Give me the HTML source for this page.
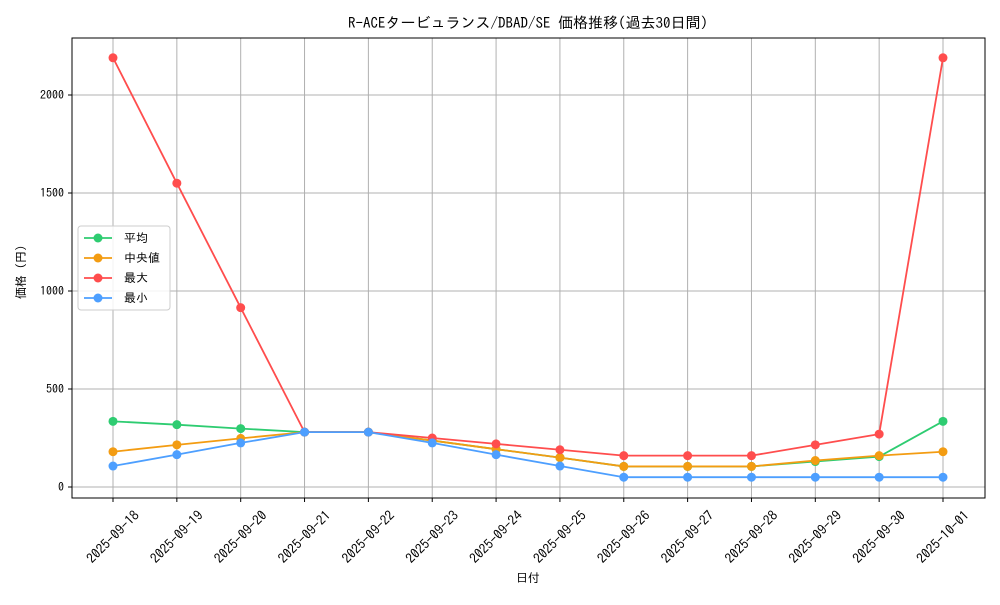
<!DOCTYPE html>
<html><head><meta charset="utf-8"><style>
body{margin:0;background:#fff;}
svg text{font-family:"IPAGothic","Liberation Sans","Noto Sans CJK JP",sans-serif;}
</style></head><body>
<svg id="chart" width="1000" height="600" xmlns="http://www.w3.org/2000/svg">
<rect width="1000" height="600" fill="#fff"/>
<text x="528" y="28" font-size="15" text-anchor="middle">R-ACEタービュランス/DBAD/SE 価格推移(過去30日間)</text>
<g id="grid"></g>
<rect x="72" y="38" width="913" height="460" fill="none" stroke="#000" stroke-width="1"/>
<g id="axes"></g>
<g id="series"></g>
<text x="528" y="582" font-size="12" text-anchor="middle">日付</text>
<text transform="translate(25,272) rotate(-90)" font-size="12" text-anchor="middle">価格 (円)</text>
<g id="legend"></g>
</svg>
<script>
const categories=["2025-09-18","2025-09-19","2025-09-20","2025-09-21","2025-09-22","2025-09-23","2025-09-24","2025-09-25","2025-09-26","2025-09-27","2025-09-28","2025-09-29","2025-09-30","2025-10-01"];
const avgValues=[335,318,298,280,280,237,193,150,105,105,105,130,155,335];
const medianValues=[180,215,248,280,280,237,193,150,105,105,105,135,160,180];
const maxValues=[2190,1550,915,280,280,250,220,190,160,160,160,215,270,2190];
const minValues=[107,165,225,280,280,225,165,107,50,50,50,50,50,50];
const yTicks=[0,500,1000,1500,2000];
const seriesNames=["平均","中央値","最大","最小"];
const seriesColors=["#2ecc71","#f39c12","#ff4d4d","#4d9fff"];
const seriesData=[avgValues,medianValues,maxValues,minValues];
const NS="http://www.w3.org/2000/svg";
const x=i=>113+i*(943-113)/(categories.length-1);
const y=v=>487-v*0.196;
function mk(t,a,p){const e=document.createElementNS(NS,t);for(const k in a)e.setAttribute(k,a[k]);p.appendChild(e);return e;}
const grid=document.getElementById('grid'),axes=document.getElementById('axes'),ser=document.getElementById('series'),leg=document.getElementById('legend');
yTicks.forEach(v=>{
 const l=mk('line',{x1:72,x2:985,y1:y(v),y2:y(v),stroke:'#b0b0b0','stroke-width':1},grid);
 
 
 mk('line',{x1:68,x2:72,y1:y(v),y2:y(v),stroke:'#000'},axes);
 const t=mk('text',{x:64,y:y(v)+4,'font-size':12,'text-anchor':'end'},axes);t.textContent=v;
 
 
});
categories.forEach((c,i)=>{
 const l=mk('line',{x1:x(i),x2:x(i),y1:38,y2:498,stroke:'#b0b0b0','stroke-width':1},grid);
 
 
 mk('line',{x1:x(i),x2:x(i),y1:498,y2:502,stroke:'#000'},axes);
 const cx=x(i),cy=537;
 const t=mk('text',{x:cx,y:cy+4.5,'font-size':13.5,'text-anchor':'middle',transform:`rotate(-45 ${cx} ${cy})`},axes);t.textContent=c;
 
 
});
seriesData.forEach((d,s)=>{
 const g=mk('g',{},ser);
 
 
 const p=mk('polyline',{points:d.map((v,i)=>x(i)+','+y(v)).join(' '),fill:'none',stroke:seriesColors[s],'stroke-width':1.8},g);
 
 
 d.forEach((v,i)=>{const c=mk('circle',{cx:x(i),cy:y(v),r:4.5,fill:seriesColors[s]},g);
  
  });
});
mk('rect',{x:78,y:226,width:92,height:84,rx:3,fill:'#fff','fill-opacity':0.85,stroke:'#ccc'},leg);
seriesNames.forEach((n,s)=>{
 const yy=238+s*20;
 const g=mk('g',{},leg);
 
 
 mk('line',{x1:84,x2:112,y1:yy,y2:yy,stroke:seriesColors[s],'stroke-width':1.8},g);
 mk('circle',{cx:98,cy:yy,r:4.5,fill:seriesColors[s]},g);
 const t=mk('text',{x:124,y:yy+4,'font-size':12},g);t.textContent=n;
});
</script>
</body></html>
